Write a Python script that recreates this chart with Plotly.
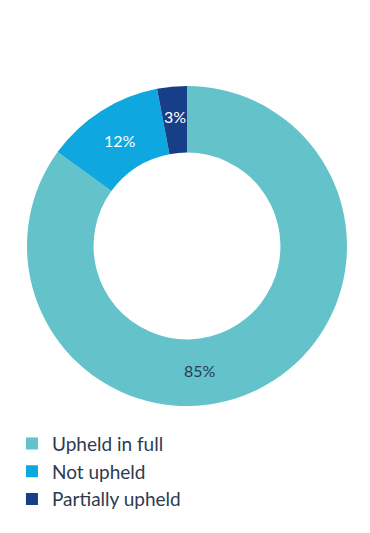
import math
import plotly.graph_objects as go

labels = ["Upheld in full", "Not upheld", "Partially upheld"]
values = [85, 12, 3]
colors = ["#64C2CB", "#0FA7DF", "#173F88"]
text_colors = ["#2B3A55", "#FFFFFF", "#FFFFFF"]

HOLE = 0.584

fig = go.Figure(go.Pie(
    labels=labels,
    values=values,
    hole=HOLE,
    sort=False,
    direction="clockwise",
    rotation=0,
    marker=dict(colors=colors, line=dict(width=0)),
    textinfo="none",
    showlegend=True,
))

# slice labels placed at mid-ring (big slice label nudged toward the bottom)
total = sum(values)
cum = 0
ring = (1 + HOLE) / 2 * 0.5  # fraction of paper (square plot area)
for i, v in enumerate(values):
    mid = (cum + v / 2) / total * 2 * math.pi
    cum += v
    if i == 0:
        mid = math.radians(174)
    r = ring * (1.02 if i == 2 else 0.98 if i == 1 else 0.98)
    x = 0.5 + r * math.sin(mid)
    y = 0.5 + r * math.cos(mid)
    fig.add_annotation(
        text=f"{v}%", x=x, y=y, xref="paper", yref="paper",
        xanchor="center", yanchor="middle", showarrow=False,
        font=dict(family="Lato", size=16, color=text_colors[i]),
    )

fig.update_layout(
    width=370, height=533,
    margin=dict(l=25, r=23, t=85, b=126),
    paper_bgcolor="white", plot_bgcolor="white",
    font=dict(family="Lato", size=19, color="#2D3A4F"),
    legend=dict(
        orientation="v", x=-0.047, xanchor="left", y=-0.055, yanchor="top",
        font=dict(family="Lato", size=19, color="#2D3A4F"),
        bgcolor="rgba(0,0,0,0)",
    ),
)

fig.write_html("out.html")
